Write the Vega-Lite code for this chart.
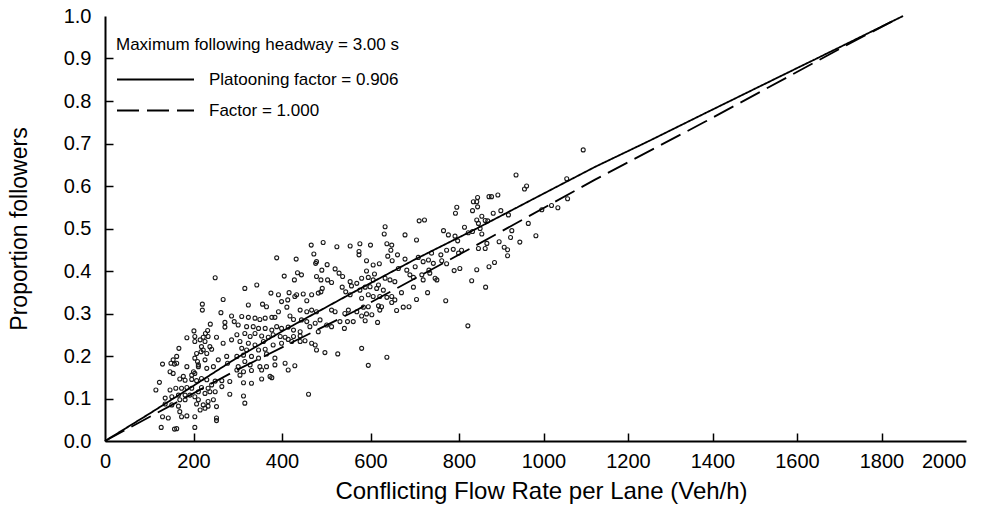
{
"$schema": "https://vega.github.io/schema/vega-lite/v6.json",
"width": 861, "height": 425,
"autosize": "none",
"padding": {"left": 105, "top": 16, "right": 33, "bottom": 69},
"background": "white",
"config": {"view": {"stroke": null}, "font": "Liberation Sans"},
"datasets": {
"points": [
{"flow":220,"pf":0.322},{"flow":220,"pf":0.308},{"flow":262,"pf":0.302},{"flow":286,"pf":0.294},{"flow":271,"pf":0.279},{"flow":292,"pf":0.281},{"flow":238,"pf":0.275},{"flow":271,"pf":0.268},{"flow":201,"pf":0.259},{"flow":232,"pf":0.260},{"flow":227,"pf":0.253},{"flow":185,"pf":0.243},{"flow":203,"pf":0.246},{"flow":222,"pf":0.244},{"flow":233,"pf":0.246},{"flow":252,"pf":0.244},{"flow":203,"pf":0.234},{"flow":215,"pf":0.238},{"flow":226,"pf":0.234},{"flow":267,"pf":0.230},{"flow":286,"pf":0.238},{"flow":167,"pf":0.218},{"flow":218,"pf":0.222},{"flow":237,"pf":0.222},{"flow":241,"pf":0.216},{"flow":222,"pf":0.214},{"flow":207,"pf":0.206},{"flow":230,"pf":0.206},{"flow":217,"pf":0.210},{"flow":275,"pf":0.199},{"flow":162,"pf":0.199},{"flow":154,"pf":0.191},{"flow":203,"pf":0.195},{"flow":209,"pf":0.187},{"flow":226,"pf":0.191},{"flow":211,"pf":0.179},{"flow":130,"pf":0.181},{"flow":149,"pf":0.183},{"flow":157,"pf":0.181},{"flow":162,"pf":0.183},{"flow":256,"pf":0.191},{"flow":277,"pf":0.183},{"flow":185,"pf":0.175},{"flow":211,"pf":0.175},{"flow":230,"pf":0.171},{"flow":245,"pf":0.175},{"flow":147,"pf":0.163},{"flow":154,"pf":0.159},{"flow":200,"pf":0.163},{"flow":203,"pf":0.159},{"flow":177,"pf":0.152},{"flow":196,"pf":0.155},{"flow":169,"pf":0.146},{"flow":181,"pf":0.143},{"flow":196,"pf":0.145},{"flow":207,"pf":0.142},{"flow":218,"pf":0.147},{"flow":230,"pf":0.144},{"flow":249,"pf":0.141},{"flow":264,"pf":0.142},{"flow":282,"pf":0.140},{"flow":123,"pf":0.138},{"flow":241,"pf":0.132},{"flow":264,"pf":0.128},{"flow":160,"pf":0.124},{"flow":173,"pf":0.124},{"flow":185,"pf":0.126},{"flow":196,"pf":0.124},{"flow":218,"pf":0.126},{"flow":233,"pf":0.124},{"flow":115,"pf":0.120},{"flow":147,"pf":0.120},{"flow":211,"pf":0.116},{"flow":226,"pf":0.112},{"flow":237,"pf":0.116},{"flow":249,"pf":0.116},{"flow":282,"pf":0.110},{"flow":166,"pf":0.108},{"flow":181,"pf":0.108},{"flow":192,"pf":0.108},{"flow":203,"pf":0.104},{"flow":136,"pf":0.101},{"flow":151,"pf":0.104},{"flow":169,"pf":0.097},{"flow":181,"pf":0.097},{"flow":211,"pf":0.097},{"flow":233,"pf":0.093},{"flow":245,"pf":0.097},{"flow":136,"pf":0.087},{"flow":207,"pf":0.087},{"flow":222,"pf":0.085},{"flow":233,"pf":0.082},{"flow":252,"pf":0.081},{"flow":151,"pf":0.085},{"flow":166,"pf":0.082},{"flow":169,"pf":0.069},{"flow":215,"pf":0.073},{"flow":226,"pf":0.077},{"flow":130,"pf":0.057},{"flow":143,"pf":0.054},{"flow":173,"pf":0.057},{"flow":185,"pf":0.059},{"flow":203,"pf":0.057},{"flow":252,"pf":0.054},{"flow":252,"pf":0.048},{"flow":127,"pf":0.032},{"flow":157,"pf":0.028},{"flow":162,"pf":0.029},{"flow":203,"pf":0.032},
{"flow":249,"pf":0.384},{"flow":267,"pf":0.333},
{"flow":466,"pf":0.461},{"flow":493,"pf":0.467},{"flow":524,"pf":0.457},{"flow":554,"pf":0.459},{"flow":388,"pf":0.431},{"flow":432,"pf":0.428},{"flow":472,"pf":0.440},{"flow":478,"pf":0.422},{"flow":476,"pf":0.418},{"flow":502,"pf":0.415},{"flow":520,"pf":0.405},{"flow":490,"pf":0.402},{"flow":529,"pf":0.395},{"flow":537,"pf":0.387},{"flow":554,"pf":0.375},{"flow":557,"pf":0.365},{"flow":405,"pf":0.388},{"flow":435,"pf":0.396},{"flow":444,"pf":0.391},{"flow":428,"pf":0.379},{"flow":478,"pf":0.387},{"flow":488,"pf":0.379},{"flow":503,"pf":0.379},{"flow":512,"pf":0.373},{"flow":343,"pf":0.367},{"flow":316,"pf":0.359},{"flow":375,"pf":0.348},{"flow":392,"pf":0.344},{"flow":416,"pf":0.349},{"flow":433,"pf":0.344},{"flow":448,"pf":0.346},{"flow":467,"pf":0.344},{"flow":482,"pf":0.348},{"flow":491,"pf":0.359},{"flow":488,"pf":0.351},{"flow":536,"pf":0.362},{"flow":544,"pf":0.351},{"flow":554,"pf":0.344},{"flow":413,"pf":0.332},{"flow":429,"pf":0.340},{"flow":456,"pf":0.330},{"flow":399,"pf":0.328},{"flow":324,"pf":0.320},{"flow":356,"pf":0.322},{"flow":365,"pf":0.316},{"flow":392,"pf":0.304},{"flow":411,"pf":0.315},{"flow":441,"pf":0.308},{"flow":456,"pf":0.304},{"flow":467,"pf":0.308},{"flow":478,"pf":0.304},{"flow":512,"pf":0.308},{"flow":520,"pf":0.304},{"flow":550,"pf":0.308},{"flow":542,"pf":0.300},{"flow":501,"pf":0.273},{"flow":512,"pf":0.269},{"flow":531,"pf":0.281},{"flow":548,"pf":0.281},{"flow":561,"pf":0.281},{"flow":541,"pf":0.265},{"flow":309,"pf":0.293},{"flow":324,"pf":0.291},{"flow":339,"pf":0.289},{"flow":350,"pf":0.286},{"flow":362,"pf":0.289},{"flow":377,"pf":0.291},{"flow":384,"pf":0.291},{"flow":418,"pf":0.294},{"flow":426,"pf":0.286},{"flow":444,"pf":0.285},{"flow":456,"pf":0.281},{"flow":475,"pf":0.277},{"flow":486,"pf":0.285},{"flow":301,"pf":0.273},{"flow":320,"pf":0.269},{"flow":335,"pf":0.269},{"flow":347,"pf":0.265},{"flow":362,"pf":0.265},{"flow":377,"pf":0.261},{"flow":388,"pf":0.269},{"flow":399,"pf":0.265},{"flow":414,"pf":0.268},{"flow":426,"pf":0.261},{"flow":441,"pf":0.257},{"flow":463,"pf":0.269},{"flow":482,"pf":0.257},{"flow":298,"pf":0.250},{"flow":316,"pf":0.253},{"flow":328,"pf":0.246},{"flow":339,"pf":0.253},{"flow":354,"pf":0.247},{"flow":369,"pf":0.244},{"flow":380,"pf":0.250},{"flow":396,"pf":0.246},{"flow":407,"pf":0.244},{"flow":414,"pf":0.239},{"flow":426,"pf":0.246},{"flow":441,"pf":0.247},{"flow":452,"pf":0.236},{"flow":467,"pf":0.230},{"flow":475,"pf":0.226},{"flow":305,"pf":0.234},{"flow":324,"pf":0.230},{"flow":339,"pf":0.226},{"flow":358,"pf":0.234},{"flow":380,"pf":0.226},{"flow":399,"pf":0.230},{"flow":422,"pf":0.234},{"flow":441,"pf":0.234},{"flow":478,"pf":0.214},{"flow":497,"pf":0.208},{"flow":526,"pf":0.205},{"flow":309,"pf":0.218},{"flow":320,"pf":0.214},{"flow":347,"pf":0.214},{"flow":362,"pf":0.216},{"flow":298,"pf":0.199},{"flow":313,"pf":0.202},{"flow":331,"pf":0.199},{"flow":347,"pf":0.195},{"flow":365,"pf":0.205},{"flow":384,"pf":0.195},{"flow":407,"pf":0.183},{"flow":429,"pf":0.177},{"flow":316,"pf":0.187},{"flow":328,"pf":0.179},{"flow":350,"pf":0.175},{"flow":365,"pf":0.175},{"flow":384,"pf":0.179},{"flow":298,"pf":0.167},{"flow":313,"pf":0.163},{"flow":305,"pf":0.155},{"flow":331,"pf":0.166},{"flow":354,"pf":0.167},{"flow":301,"pf":0.175},{"flow":373,"pf":0.152},{"flow":414,"pf":0.167},{"flow":354,"pf":0.146},{"flow":377,"pf":0.149},{"flow":313,"pf":0.137},{"flow":331,"pf":0.136},{"flow":313,"pf":0.106},{"flow":316,"pf":0.089},{"flow":460,"pf":0.110},
{"flow":795,"pf":0.550},{"flow":792,"pf":0.536},{"flow":832,"pf":0.542},{"flow":834,"pf":0.563},{"flow":710,"pf":0.518},{"flow":722,"pf":0.520},{"flow":633,"pf":0.504},{"flow":631,"pf":0.487},{"flow":678,"pf":0.485},{"flow":765,"pf":0.495},{"flow":776,"pf":0.485},{"flow":791,"pf":0.482},{"flow":813,"pf":0.503},{"flow":822,"pf":0.490},{"flow":832,"pf":0.493},{"flow":704,"pf":0.473},{"flow":797,"pf":0.471},{"flow":576,"pf":0.464},{"flow":600,"pf":0.461},{"flow":637,"pf":0.464},{"flow":648,"pf":0.461},{"flow":646,"pf":0.449},{"flow":574,"pf":0.446},{"flow":574,"pf":0.438},{"flow":661,"pf":0.438},{"flow":678,"pf":0.428},{"flow":639,"pf":0.435},{"flow":649,"pf":0.424},{"flow":738,"pf":0.442},{"flow":759,"pf":0.438},{"flow":772,"pf":0.449},{"flow":787,"pf":0.451},{"flow":806,"pf":0.449},{"flow":799,"pf":0.442},{"flow":591,"pf":0.424},{"flow":620,"pf":0.417},{"flow":606,"pf":0.414},{"flow":708,"pf":0.432},{"flow":719,"pf":0.422},{"flow":731,"pf":0.426},{"flow":742,"pf":0.418},{"flow":761,"pf":0.424},{"flow":772,"pf":0.417},{"flow":591,"pf":0.400},{"flow":609,"pf":0.393},{"flow":663,"pf":0.406},{"flow":682,"pf":0.402},{"flow":701,"pf":0.410},{"flow":689,"pf":0.391},{"flow":697,"pf":0.385},{"flow":716,"pf":0.391},{"flow":732,"pf":0.402},{"flow":734,"pf":0.395},{"flow":746,"pf":0.383},{"flow":569,"pf":0.371},{"flow":580,"pf":0.383},{"flow":595,"pf":0.385},{"flow":606,"pf":0.379},{"flow":618,"pf":0.367},{"flow":633,"pf":0.383},{"flow":644,"pf":0.379},{"flow":655,"pf":0.375},{"flow":719,"pf":0.379},{"flow":750,"pf":0.379},{"flow":789,"pf":0.401},{"flow":802,"pf":0.406},{"flow":830,"pf":0.377},{"flow":576,"pf":0.355},{"flow":588,"pf":0.362},{"flow":599,"pf":0.363},{"flow":614,"pf":0.359},{"flow":629,"pf":0.355},{"flow":670,"pf":0.349},{"flow":697,"pf":0.362},{"flow":729,"pf":0.349},{"flow":580,"pf":0.336},{"flow":595,"pf":0.344},{"flow":606,"pf":0.340},{"flow":621,"pf":0.340},{"flow":637,"pf":0.338},{"flow":648,"pf":0.340},{"flow":655,"pf":0.332},{"flow":704,"pf":0.333},{"flow":770,"pf":0.330},{"flow":584,"pf":0.315},{"flow":595,"pf":0.316},{"flow":618,"pf":0.318},{"flow":625,"pf":0.316},{"flow":648,"pf":0.326},{"flow":674,"pf":0.315},{"flow":687,"pf":0.316},{"flow":569,"pf":0.304},{"flow":580,"pf":0.294},{"flow":591,"pf":0.299},{"flow":603,"pf":0.297},{"flow":621,"pf":0.308},{"flow":659,"pf":0.307},{"flow":588,"pf":0.283},{"flow":616,"pf":0.279},{"flow":821,"pf":0.271},{"flow":580,"pf":0.218},{"flow":637,"pf":0.197},{"flow":595,"pf":0.178},
{"flow":935,"pf":0.626},{"flow":955,"pf":0.593},{"flow":960,"pf":0.600},{"flow":1055,"pf":0.617},{"flow":844,"pf":0.573},{"flow":871,"pf":0.575},{"flow":877,"pf":0.575},{"flow":892,"pf":0.579},{"flow":842,"pf":0.563},{"flow":844,"pf":0.551},{"flow":881,"pf":0.536},{"flow":899,"pf":0.542},{"flow":917,"pf":0.532},{"flow":854,"pf":0.529},{"flow":842,"pf":0.520},{"flow":846,"pf":0.512},{"flow":862,"pf":0.519},{"flow":868,"pf":0.518},{"flow":850,"pf":0.500},{"flow":854,"pf":0.487},{"flow":964,"pf":0.512},{"flow":996,"pf":0.544},{"flow":1019,"pf":0.554},{"flow":1034,"pf":0.549},{"flow":1057,"pf":0.570},{"flow":925,"pf":0.495},{"flow":922,"pf":0.479},{"flow":895,"pf":0.469},{"flow":944,"pf":0.468},{"flow":982,"pf":0.483},{"flow":866,"pf":0.465},{"flow":862,"pf":0.453},{"flow":846,"pf":0.453},{"flow":907,"pf":0.456},{"flow":915,"pf":0.450},{"flow":915,"pf":0.436},{"flow":884,"pf":0.420},{"flow":871,"pf":0.410},{"flow":842,"pf":0.403},{"flow":863,"pf":0.362},{"flow":1094,"pf":0.685}
],
"curves": [
{"series":"Platooning factor = 0.906","flow":0,"pf":0},{"series":"Platooning factor = 0.906","flow":100,"pf":0.064},{"series":"Platooning factor = 0.906","flow":200,"pf":0.13},{"series":"Platooning factor = 0.906","flow":294,"pf":0.193},{"series":"Platooning factor = 0.906","flow":400,"pf":0.258},{"series":"Platooning factor = 0.906","flow":565,"pf":0.352},{"series":"Platooning factor = 0.906","flow":700,"pf":0.427},{"series":"Platooning factor = 0.906","flow":838,"pf":0.498},{"series":"Platooning factor = 0.906","flow":1000,"pf":0.582},{"series":"Platooning factor = 0.906","flow":1122,"pf":0.645},{"series":"Platooning factor = 0.906","flow":1252,"pf":0.707},{"series":"Platooning factor = 0.906","flow":1382,"pf":0.771},{"series":"Platooning factor = 0.906","flow":1552,"pf":0.854},{"series":"Platooning factor = 0.906","flow":1700,"pf":0.926},{"series":"Platooning factor = 0.906","flow":1851,"pf":1.0},
{"series":"Factor = 1.000","flow":0,"pf":0},{"series":"Factor = 1.000","flow":294,"pf":0.165},{"series":"Factor = 1.000","flow":565,"pf":0.306},{"series":"Factor = 1.000","flow":838,"pf":0.459},{"series":"Factor = 1.000","flow":1122,"pf":0.615},{"series":"Factor = 1.000","flow":1382,"pf":0.751},{"series":"Factor = 1.000","flow":1726,"pf":0.936},{"series":"Factor = 1.000","flow":1840,"pf":0.995}
]
},
"resolve": {"axis": {"x": "independent", "y": "independent"}},
"layer": [
{"data": {"name": "points"},
 "mark": {"type": "point", "filled": false, "stroke": "#1a1a1a", "strokeWidth": 1.1, "size": 16, "opacity": 1},
 "encoding": {
  "x": {"field": "flow", "type": "quantitative",
   "scale": {"domain": [0, 800, 2000], "range": [0, 354, 861], "nice": false, "zero": false},
   "axis": {"orient": "bottom", "title": "Conflicting Flow Rate per Lane (Veh/h)", "values": [0,200,400,600,800,1000,1200,1400,1600,1800,2000], "format": "d", "grid": false,
    "labelFontSize": 20, "labelColor": "black", "labelPadding": 10, "labelOverlap": false,
    "labelAlign": {"condition": {"test": "datum.value == 2000", "value": "right"}, "value": "center"},
    "ticks": false, "tickSize": 0, "domainColor": "black", "domainWidth": 2,
    "titleFontSize": 24, "titleFontWeight": "normal", "titleColor": "black", "titlePadding": 8, "titleX": 436}},
  "y": {"field": "pf", "type": "quantitative",
   "scale": {"domain": [0, 1], "nice": false, "zero": true},
   "axis": {"orient": "left", "title": "Proportion followers", "values": [0,0.1,0.2,0.3,0.4,0.5,0.6,0.7,0.8,0.9,1.0], "format": ".1f", "grid": false,
    "labelFontSize": 20, "labelColor": "black", "labelPadding": 14, "labelOverlap": false,
    "ticks": false, "tickSize": 0, "domainColor": "black", "domainWidth": 2,
    "titleFontSize": 23, "titleFontWeight": "normal", "titleColor": "black", "titlePadding": 32}}
 }},
{"data": {"name": "curves"},
 "mark": {"type": "line", "color": "black", "strokeWidth": 1.8},
 "encoding": {
  "x": {"field": "flow", "type": "quantitative",
   "scale": {"domain": [0, 800, 2000], "range": [0, 354, 861], "nice": false, "zero": false},
   "axis": {"orient": "bottom", "offset": -8, "title": null, "values": [200,400,600,800,1000,1200,1400,1600,1800], "grid": false,
    "domain": false, "labels": false, "ticks": true, "tickSize": 8, "tickColor": "black", "tickWidth": 1.5}},
  "y": {"field": "pf", "type": "quantitative",
   "scale": {"domain": [0, 1], "nice": false, "zero": true},
   "axis": {"orient": "left", "offset": -8, "title": null, "values": [0.1,0.2,0.3,0.4,0.5,0.6,0.7,0.8,0.9], "grid": false,
    "domain": false, "labels": false, "ticks": true, "tickSize": 8, "tickColor": "black", "tickWidth": 1.5}},
  "strokeDash": {"field": "series", "type": "nominal",
   "scale": {"domain": ["Platooning factor = 0.906", "Factor = 1.000"], "range": [[1, 0], [22, 8]]},
   "legend": {"orient": "none", "legendX": 11, "legendY": 21, "padding": 0,
    "title": "Maximum following headway = 3.00 s", "titleFontSize": 17, "titleFontWeight": "normal", "titleColor": "black", "titleLimit": 500, "titlePadding": 11,
    "labelFontSize": 17, "labelColor": "black", "labelLimit": 400, "labelOffset": 14,
    "symbolType": "stroke", "symbolSize": 5929, "symbolStrokeWidth": 1.8, "symbolStrokeColor": "black",
    "clipHeight": 29, "rowPadding": 2}}
 }}
]
}
